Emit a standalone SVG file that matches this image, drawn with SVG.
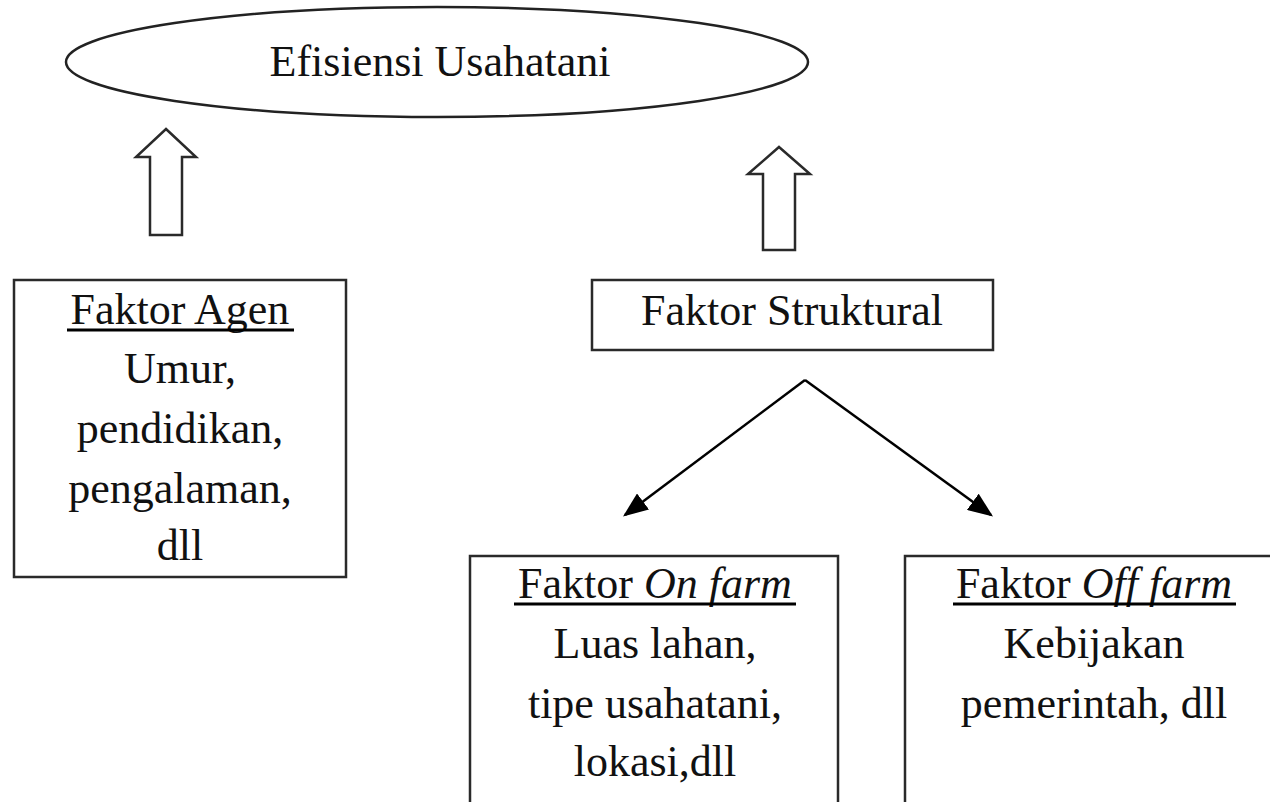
<svg xmlns="http://www.w3.org/2000/svg" width="1270" height="802" viewBox="0 0 1270 802">
<style>
.t{font-family:"Liberation Serif","Times New Roman",serif;font-size:44px;fill:#111;text-anchor:middle}
.box{fill:#fff;stroke:#2a2a2a;stroke-width:2.5}
.ul{stroke:#000;stroke-width:3}
.blk{fill:#fff;stroke:#2a2a2a;stroke-width:2.5;stroke-linejoin:miter}
.con{stroke:#000;stroke-width:2.5;fill:none}
</style>
<defs>
<marker id="ah" markerWidth="10" markerHeight="8" refX="9" refY="4" orient="auto" markerUnits="strokeWidth">
<path d="M0,0 L10,4 L0,8 Z" fill="#000"/>
</marker>
</defs>
<rect width="1270" height="802" fill="#fff"/>
<g id="efisiensi">
<ellipse cx="437" cy="62" rx="371" ry="55" fill="#fff" stroke="#222" stroke-width="2.5"/>
<text class="t" x="440" y="76">Efisiensi Usahatani</text>
</g>
<g id="faktor-agen">
<rect class="box" x="14" y="280" width="332" height="297"/>
<text class="t" x="180" y="324">Faktor Agen</text>
<line class="ul" x1="67" y1="330" x2="294" y2="330"/>
<text class="t" x="180" y="383">Umur,</text>
<text class="t" x="180" y="443">pendidikan,</text>
<text class="t" x="180" y="503">pengalaman,</text>
<text class="t" x="180" y="560">dll</text>
</g>
<g id="faktor-struktural">
<rect class="box" x="592" y="280" width="401" height="70"/>
<text class="t" x="792" y="325">Faktor Struktural</text>
</g>
<g id="faktor-on-farm">
<rect class="box" x="470" y="556" width="368" height="260"/>
<text class="t" x="655" y="598">Faktor <tspan font-style="italic">On farm</tspan></text>
<line class="ul" x1="514" y1="604" x2="796" y2="604"/>
<text class="t" x="655" y="658">Luas lahan,</text>
<text class="t" x="655" y="718">tipe usahatani,</text>
<text class="t" x="655" y="776">lokasi,dll</text>
</g>
<g id="faktor-off-farm">
<rect class="box" x="905" y="556" width="380" height="260"/>
<text class="t" x="1094" y="598">Faktor <tspan font-style="italic">Off farm</tspan></text>
<line class="ul" x1="953" y1="604" x2="1236" y2="604"/>
<text class="t" x="1094" y="658">Kebijakan</text>
<text class="t" x="1094" y="718">pemerintah, dll</text>
</g>
<g id="connectors">
<path class="blk" d="M166,129 L196,157 L182,157 L182,235 L150,235 L150,157 L136,157 Z"/>
<path class="blk" d="M779,147 L810,174 L795,174 L795,250 L763,250 L763,174 L748,174 Z"/>
<line class="con" x1="805" y1="380" x2="625" y2="515" marker-end="url(#ah)"/>
<line class="con" x1="805" y1="380" x2="991" y2="515" marker-end="url(#ah)"/>
</g>
</svg>
